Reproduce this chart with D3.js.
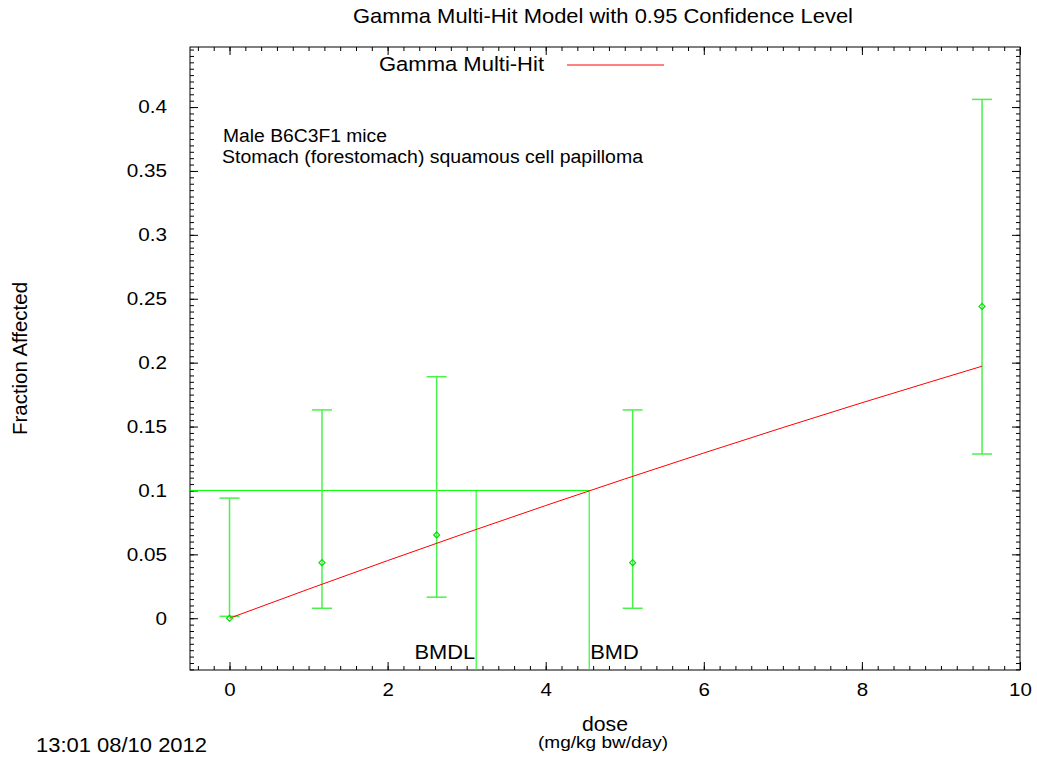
<!DOCTYPE html>
<html><head><meta charset="utf-8">
<script src="https://cdn.jsdelivr.net/npm/d3@7"></script>
<style>body{margin:0;background:#fff}text{font-family:"Liberation Sans",Arial,sans-serif;fill:#000}</style>
</head><body>
<svg id="c" width="1037" height="763"></svg>
<script>
const doses = [0, 1.17, 2.62, 5.1, 9.52];
const observed = [0, 0.0435, 0.0652, 0.0435, 0.244];
const lowerCI = [0.0015, 0.0078, 0.0165, 0.0078, 0.1285];
const upperCI = [0.094, 0.163, 0.189, 0.163, 0.406];
const fitDose = [0, 1, 2, 3, 4, 5, 6, 7, 8, 9, 9.52];
const fitValue = [0, 0.0228, 0.0451, 0.0669, 0.0882, 0.1090, 0.1293, 0.1492, 0.1686, 0.1875, 0.1972];
const bmr = 0.1, bmdl = 3.12, bmd = 4.55;
const xTicks = [0, 2, 4, 6, 8, 10];
const yTicks = [0, 0.05, 0.1, 0.15, 0.2, 0.25, 0.3, 0.35, 0.4];

const svg = d3.select('#c');
const L = 190, R = 1020, T = 47, B = 670;
const x = d3.scaleLinear().domain([-0.5, 10]).range([L, R]);
const y = d3.scaleLinear().domain([-0.0405, 0.447]).range([B, T]);

// horizontal stretch helper (reference font is slightly wider)
function stretch(sel, f) {
  sel.each(function () { const w = this.getComputedTextLength(); d3.select(this).attr('textLength', w * f).attr('lengthAdjust', 'spacingAndGlyphs'); });
}

// frame
svg.append('rect').attr('x', L).attr('y', T).attr('width', R - L).attr('height', B - T)
  .attr('fill', 'none').attr('stroke', '#000').attr('stroke-width', 1);

// ticks (inward)
const xMinor = d3.range(-0.4, 10.001, 0.2).map(v => +v.toFixed(2));
const yMinor = d3.range(-0.04, 0.447, 0.005).map(v => +v.toFixed(3));
function ax(gen, tr) { const g = svg.append('g').attr('transform', tr).call(gen); g.select('.domain').remove(); return g; }
ax(d3.axisTop(x).tickValues(xMinor).tickSize(4).tickFormat(''), `translate(0,${B})`);
ax(d3.axisTop(x).tickValues(xTicks).tickSize(8).tickFormat(''), `translate(0,${B})`);
ax(d3.axisBottom(x).tickValues(xMinor).tickSize(4).tickFormat(''), `translate(0,${T})`);
ax(d3.axisBottom(x).tickValues(xTicks).tickSize(8).tickFormat(''), `translate(0,${T})`);
ax(d3.axisRight(y).tickValues(yMinor).tickSize(4).tickFormat(''), `translate(${L},0)`);
ax(d3.axisRight(y).tickValues(yTicks).tickSize(8).tickFormat(''), `translate(${L},0)`);
ax(d3.axisLeft(y).tickValues(yMinor).tickSize(4).tickFormat(''), `translate(${R},0)`);
ax(d3.axisLeft(y).tickValues(yTicks).tickSize(8).tickFormat(''), `translate(${R},0)`);
svg.selectAll('.tick line').attr('stroke', '#000');

// tick labels
const xl = ax(d3.axisBottom(x).tickValues(xTicks).tickSize(0).tickPadding(13).tickFormat(d3.format('d')), `translate(0,${B})`);
xl.selectAll('text').attr('font-size', 19).attr('fill', '#000').style('font-family', '"Liberation Sans",Arial,sans-serif');
stretch(xl.selectAll('text'), 1.08);
const yl = ax(d3.axisLeft(y).tickValues(yTicks).tickSize(0).tickPadding(L - 167).tickFormat(d => String(d)), `translate(${L},0)`);
yl.selectAll('text').attr('font-size', 18.5).attr('fill', '#000').style('font-family', '"Liberation Sans",Arial,sans-serif');
stretch(yl.selectAll('text'), 1.12);

// BMR / BMD lines
const green = '#00ff00';
svg.append('line').attr('x1', L).attr('x2', x(bmd)).attr('y1', y(bmr)).attr('y2', y(bmr)).attr('stroke', green);
svg.append('line').attr('x1', x(bmdl)).attr('x2', x(bmdl)).attr('y1', y(bmr)).attr('y2', B).attr('stroke', green);
svg.append('line').attr('x1', x(bmd)).attr('x2', x(bmd)).attr('y1', y(bmr)).attr('y2', B).attr('stroke', green);
const tb1 = svg.append('text').attr('x', x(bmdl) - 1).attr('y', 659).attr('text-anchor', 'end').attr('font-size', 21).text('BMDL');
const tb2 = svg.append('text').attr('x', x(bmd) + 1).attr('y', 659).attr('font-size', 21).text('BMD');
stretch(tb1, 1.04); stretch(tb2, 1.04);

// error bars
const ebColor = '#4cf04c';
const eb = svg.append('g').attr('stroke', ebColor).attr('stroke-width', 1.5);
doses.forEach((d, i) => {
  eb.append('line').attr('x1', x(d)).attr('x2', x(d)).attr('y1', y(lowerCI[i])).attr('y2', y(upperCI[i]));
  [lowerCI[i], upperCI[i]].forEach(v => eb.append('line').attr('x1', x(d) - 10).attr('x2', x(d) + 10).attr('y1', y(v)).attr('y2', y(v)));
});

// fit line
svg.append('path').datum(fitDose.map((d, i) => [d, fitValue[i]]))
  .attr('d', d3.line().x(p => x(p[0])).y(p => y(p[1])))
  .attr('fill', 'none').attr('stroke', '#ff0000').attr('stroke-width', 1);

// points (diamonds)
svg.append('g').selectAll('path').data(doses).join('path')
  .attr('transform', (d, i) => `translate(${x(d)},${y(observed[i])})`)
  .attr('d', 'M0,-3L3,0L0,3L-3,0Z').attr('fill', 'none').attr('stroke', '#00dd00').attr('stroke-width', 1.2);

// legend
const lg = svg.append('text').attr('x', 379).attr('y', 71).attr('font-size', 20.5).text('Gamma Multi-Hit');
lg.attr('textLength', 165).attr('lengthAdjust', 'spacingAndGlyphs');
svg.append('line').attr('x1', 567).attr('x2', 664).attr('y1', 65).attr('y2', 65).attr('stroke', '#ff0000');

// annotation
svg.append('text').attr('x', 223).attr('y', 142).attr('font-size', 18).attr('textLength', 164).attr('lengthAdjust', 'spacingAndGlyphs').text('Male B6C3F1 mice');
svg.append('text').attr('x', 222).attr('y', 163).attr('font-size', 18).attr('textLength', 421).attr('lengthAdjust', 'spacingAndGlyphs').text('Stomach (forestomach) squamous cell papilloma');

// titles
svg.append('text').attr('x', 353).attr('y', 23).attr('font-size', 21).attr('textLength', 500).attr('lengthAdjust', 'spacingAndGlyphs').text('Gamma Multi-Hit Model with 0.95 Confidence Level');
svg.append('text').attr('x', 582).attr('y', 731).attr('font-size', 20).attr('textLength', 46).attr('lengthAdjust', 'spacingAndGlyphs').text('dose');
svg.append('text').attr('x', 538).attr('y', 748).attr('font-size', 17).attr('textLength', 130).attr('lengthAdjust', 'spacingAndGlyphs').text('(mg/kg bw/day)');
svg.append('text').attr('transform', 'translate(27,435) rotate(-90)').attr('font-size', 20).attr('textLength', 153).attr('lengthAdjust', 'spacingAndGlyphs').text('Fraction Affected');
svg.append('text').attr('x', 36).attr('y', 752).attr('font-size', 21).attr('textLength', 171).attr('lengthAdjust', 'spacingAndGlyphs').text('13:01 08/10 2012');
</script>
</body></html>
